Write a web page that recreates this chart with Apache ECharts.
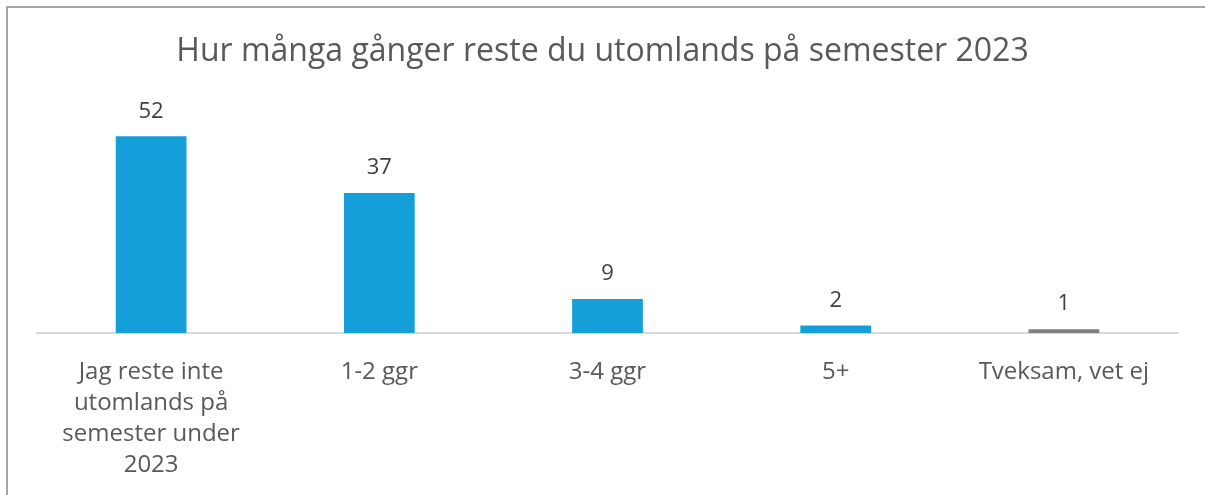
<!DOCTYPE html>
<html>
<head>
<meta charset="utf-8">
<script src="https://cdn.jsdelivr.net/npm/echarts@6/dist/echarts.min.js"></script>
<style>
  html, body { margin: 0; padding: 0; background: #fff; overflow: hidden; }
  #frame { position: absolute; left: 6px; top: 6px; width: 1400px; height: 700px;
           border-top: 2px solid #a6a6a6; border-left: 2px solid #a6a6a6; }
  #chart { position: absolute; left: 0; top: 0; width: 1205px; height: 495px; }
</style>
</head>
<body>
<div id="frame"></div>
<div id="chart"></div>
<script>
const title = 'Hur många gånger reste du utomlands på semester 2023';
const categories = ['Jag reste inte\nutomlands på\nsemester under\n2023', '1-2 ggr', '3-4 ggr', '5+', 'Tveksam, vet ej'];
const values = [52, 37, 9, 2, 1];
const barColors = ['#149fd9', '#149fd9', '#149fd9', '#149fd9', '#7f7f7f'];

const chart = echarts.init(document.getElementById('chart'));
chart.setOption({
  animation: false,
  textStyle: { fontFamily: 'Open Sans' },
  title: {
    text: title,
    left: 'center',
    top: 31,
    textStyle: { fontSize: 32, fontWeight: 'normal', color: '#595959', fontFamily: 'Open Sans' }
  },
  grid: { left: 37, right: 27, top: 106, bottom: 162 },
  xAxis: {
    type: 'category',
    data: categories,
    axisLine: { lineStyle: { color: '#d9d9d9', width: 2 } },
    axisTick: { show: false },
    axisLabel: { fontSize: 24, color: '#595959', lineHeight: 31, margin: 24, interval: 0 }
  },
  yAxis: {
    type: 'value',
    min: 0,
    max: 60,
    show: false
  },
  series: [{
    type: 'bar',
    barWidth: '31%',
    data: values.map((v, i) => ({ value: v, itemStyle: { color: barColors[i] } })),
    label: { show: true, position: 'top', distance: 14, fontSize: 22, color: '#404040' }
  }]
});
</script>
</body>
</html>
